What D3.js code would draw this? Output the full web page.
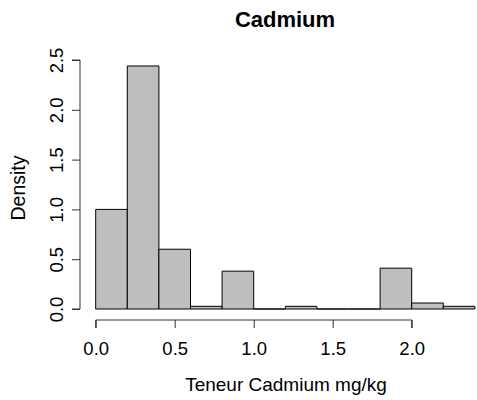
<!DOCTYPE html>
<html>
<head>
<meta charset="utf-8">
<script src="https://cdn.jsdelivr.net/npm/d3@7"></script>
<style>
  body { margin: 0; background: #fff; }
  text { font-family: Arial, "Liberation Sans", sans-serif; fill: #000; }
</style>
</head>
<body>
<script>
// histogram bins (width 0.2) and their densities
const binStarts = [0.0, 0.2, 0.4, 0.6, 0.8, 1.0, 1.2, 1.4, 1.6, 1.8, 2.0, 2.2]
const densities = [1.0, 2.44, 0.6, 0.027, 0.38, 0, 0.027, 0, 0, 0.41, 0.06, 0.027]
const binWidth = 0.2
const xTicks = [0, 0.5, 1.0, 1.5, 2.0]
const yTicks = [0, 0.5, 1.0, 1.5, 2.0, 2.5]

const width = 477
const height = 400
const font = 'Arial, "Liberation Sans", sans-serif'

const x = d3.scaleLinear().domain([0, 2.4]).range([95.7, 474.9])
const y = d3.scaleLinear().domain([0, 2.5]).range([309, 60])

const svg = d3.select('body').append('svg')
    .attr('width', width)
    .attr('height', height)

const bins = binStarts.map((s, i) => ({x0: s, x1: s + binWidth, d: densities[i]}))

// paths so that empty bins still show as a flat line, like R does
svg.append('g').selectAll('path')
  .data(bins)
  .enter().append('path')
    .attr('d', (d) => `M${x(d.x0)},${y(0)}V${y(d.d)}H${x(d.x1)}V${y(0)}Z`)
    .attr('fill', '#bebebe')
    .attr('stroke', '#000')
    .attr('stroke-width', 1)

// x axis
const xAxis = svg.append('g')
    .attr('transform', 'translate(0, 320)')
    .call(d3.axisBottom(x).tickValues(xTicks).tickFormat(d3.format('.1f')).tickSizeOuter(0).tickSize(8))
xAxis.select('.domain').attr('d', `M${x(0)},8V0H${x(2)}V8`).attr('stroke', '#333')
xAxis.selectAll('.tick line').attr('stroke', '#333')
xAxis.selectAll('text')
    .attr('font-size', 18.5)
    .attr('font-family', font)
    .attr('y', 35).attr('dy', null)

// y axis
const yAxis = svg.append('g')
    .attr('transform', 'translate(80, 0)')
    .call(d3.axisLeft(y).tickValues(yTicks).tickFormat(d3.format('.1f')).tickSizeOuter(0).tickSize(8))
yAxis.select('.domain').attr('d', `M-8,${y(0)}H0V${y(2.5)}H-8`).attr('stroke', '#333')
yAxis.selectAll('.tick line').attr('stroke', '#333')
yAxis.selectAll('text')
    .attr('font-size', 18.5)
    .attr('font-family', font)
    .attr('x', null).attr('dy', null)
    .attr('text-anchor', 'middle')
    .attr('transform', 'translate(-17, 0) rotate(-90)')

// titles
svg.append('text')
    .attr('x', 285).attr('y', 27)
    .attr('text-anchor', 'middle')
    .attr('font-size', 22)
    .attr('font-weight', 'bold')
    .text('Cadmium')

svg.append('text')
    .attr('x', 286).attr('y', 391)
    .attr('text-anchor', 'middle')
    .attr('font-size', 19)
    .text('Teneur Cadmium mg/kg')

svg.append('text')
    .attr('transform', 'translate(25, 188) rotate(-90)')
    .attr('text-anchor', 'middle')
    .attr('font-size', 19.5)
    .text('Density')
</script>
</body>
</html>
